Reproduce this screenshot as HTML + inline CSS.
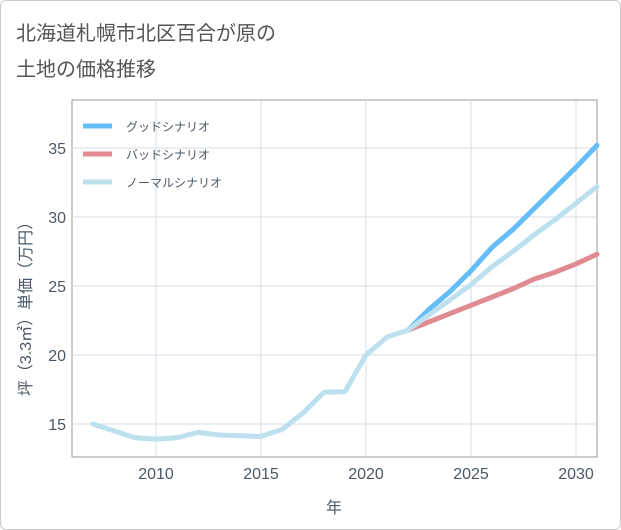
<!DOCTYPE html>
<html><head><meta charset="utf-8"><style>
body{margin:0;background:#fff;font-family:"Liberation Sans","Noto Sans CJK JP",sans-serif;}
#wrap{position:relative;width:619px;height:528px;border:1px solid #ccc;border-radius:6px;background:#fff;overflow:hidden}
</style></head><body>
<div id="wrap">
<svg id="c" width="621" height="530" style="position:absolute;left:-1px;top:-1px">
<text x="16" y="40" font-size="20" fill="#555">北海道札幌市北区百合が原の</text>
<text x="16" y="76" font-size="20" fill="#555">土地の価格推移</text>
<rect x="72" y="100" width="525" height="357" fill="none" stroke="#999"/>
<g id="grid"></g><g id="series"></g>
<text x="334" y="513" font-size="16" fill="#4a5868" text-anchor="middle">年</text>
<text transform="translate(31,305) rotate(-90)" font-size="16" fill="#4a5868" text-anchor="middle">坪（3.3㎡）単価（万円）</text>
<g>
<line x1="83" y1="126" x2="112" y2="126" stroke="#64bdf6" stroke-width="5"/><text x="126" y="131" font-size="12" fill="#4a5868">グッドシナリオ</text>
<line x1="83" y1="154" x2="112" y2="154" stroke="#e08a92" stroke-width="5"/><text x="126" y="159" font-size="12" fill="#4a5868">バッドシナリオ</text>
<line x1="83" y1="182" x2="112" y2="182" stroke="#bde0ee" stroke-width="5"/><text x="126" y="187" font-size="12" fill="#4a5868">ノーマルシナリオ</text>
</g>
</svg>
</div>
<script>
const histYears=[2007,2008,2009,2010,2011,2012,2013,2014,2015,2016,2017,2018,2019,2020,2021,2022];
const histValues=[15.0,14.5,14.0,13.9,14.0,14.4,14.2,14.15,14.1,14.6,15.8,17.3,17.35,20.0,21.3,21.8];
const futYears=[2022,2023,2024,2025,2026,2027,2028,2029,2030,2031];
const goodValues=[21.8,23.3,24.6,26.1,27.8,29.1,30.6,32.1,33.6,35.2];
const badValues=[21.8,22.4,23.0,23.6,24.2,24.8,25.5,26.0,26.6,27.3];
const normalValues=[21.8,22.9,24.0,25.1,26.4,27.5,28.7,29.8,31.0,32.2];
const xTicks=[2010,2015,2020,2025,2030];
const yTicks=[15,20,25,30,35];
const NS="http://www.w3.org/2000/svg";
const X=y=>156+(y-2010)*21, Y=v=>424-(v-15)*13.8;
const grid=document.getElementById('grid'), ser=document.getElementById('series');
function mk(tag,attrs,parent){const e=document.createElementNS(NS,tag);for(const k in attrs)e.setAttribute(k,attrs[k]);parent.appendChild(e);return e;}
xTicks.forEach(t=>{
 const l=mk('line',{x1:X(t),x2:X(t),y1:100,y2:457,stroke:'#d5dde6'},grid);
 
 
 const tx=mk('text',{x:X(t),y:479,'font-size':16,fill:'#4a5868','text-anchor':'middle'},grid);tx.textContent=t;
 
 
});
yTicks.forEach(t=>{
 const l=mk('line',{x1:72,x2:597,y1:Y(t),y2:Y(t),stroke:'#d5dde6'},grid);
 
 
 const tx=mk('text',{x:66,y:Y(t)+6,'font-size':16,fill:'#4a5868','text-anchor':'end'},grid);tx.textContent=t;
 
 
});
function line(xs,vs,color,name){
 const p=mk('polyline',{points:xs.map((x,i)=>X(x)+','+Y(vs[i])).join(' '),fill:'none',stroke:color,'stroke-width':5,'stroke-linejoin':'round','stroke-linecap':'round'},ser);
 
 
}
line(futYears,goodValues,'#64bdf6','good-scenario-line');
line(futYears,badValues,'#e08a92','bad-scenario-line');
line(futYears,normalValues,'#bde0ee','normal-scenario-line');
line(histYears,histValues,'#bde0ee','historical-line');
</script>
</body></html>
